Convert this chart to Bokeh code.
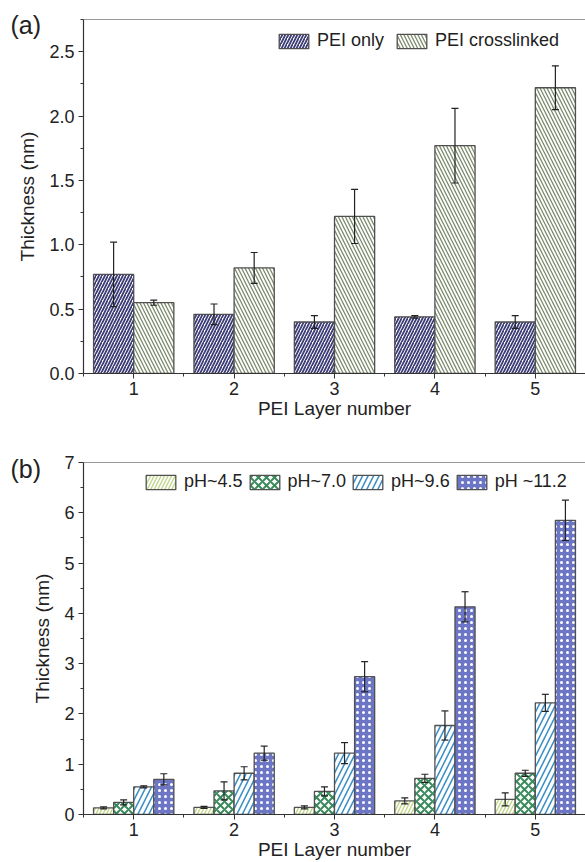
from bokeh.plotting import figure
from bokeh.models import (ColumnDataSource, Whisker, TeeHead, FixedTicker, Span,
                          NumeralTickFormatter)
from bokeh.layouts import column
from bokeh.embed import file_html
from bokeh.resources import INLINE

# ---------------- data ----------------
layers = [1, 2, 3, 4, 5]

pei_only = [0.77, 0.46, 0.40, 0.44, 0.40]
pei_only_err = [0.25, 0.08, 0.05, 0.01, 0.05]
pei_cross = [0.55, 0.82, 1.22, 1.77, 2.22]
pei_cross_err = [0.02, 0.12, 0.21, 0.29, 0.17]

ph45 = [0.13, 0.14, 0.14, 0.27, 0.30]
ph45_err = [0.02, 0.02, 0.03, 0.06, 0.13]
ph70 = [0.24, 0.47, 0.46, 0.72, 0.82]
ph70_err = [0.05, 0.18, 0.09, 0.08, 0.06]
ph96 = [0.55, 0.82, 1.22, 1.77, 2.22]
ph96_err = [0.02, 0.13, 0.21, 0.29, 0.17]
ph112 = [0.70, 1.22, 2.74, 4.13, 5.85]
ph112_err = [0.11, 0.14, 0.30, 0.30, 0.40]

yticks_a = [0.0, 0.5, 1.0, 1.5, 2.0, 2.5]
yticks_b = [0, 1, 2, 3, 4, 5, 6, 7]

FONT = "Liberation Sans"
W = 585
INK = "#222222"


def style(p, yticks, ystep, fmt, letter, standoff):
    p.outline_line_color = None
    p.xgrid.visible = False
    p.ygrid.visible = False
    for ax in (p.xaxis[0], p.yaxis[0]):
        ax.axis_line_color = "#333333"
        ax.axis_line_width = 1.2
        ax.major_tick_line_color = "#333333"
        ax.minor_tick_line_color = "#333333"
        ax.major_tick_out = 5
        ax.major_tick_in = 0
        ax.minor_tick_out = 3
        ax.minor_tick_in = 0
        ax.major_label_text_font = FONT
        ax.major_label_text_font_size = "18px"
        ax.major_label_text_color = INK
        ax.axis_label_text_font = FONT
        ax.axis_label_text_font_size = "19px"
        ax.axis_label_text_font_style = "normal"
        ax.axis_label_text_color = INK
    p.xaxis.ticker = FixedTicker(ticks=layers, minor_ticks=[l - 0.5 for l in layers] + [layers[-1] + 0.5])
    p.yaxis.ticker = FixedTicker(ticks=yticks, minor_ticks=[t + ystep / 2 for t in yticks])
    p.yaxis.formatter = NumeralTickFormatter(format=fmt)
    p.xaxis.axis_label = "PEI Layer number"
    p.yaxis.axis_label = "Thickness (nm)"
    p.xaxis.axis_label_standoff = 0
    p.yaxis.axis_label_standoff = 8
    p.xaxis.major_label_standoff = 3
    p.yaxis.major_label_standoff = 4
    p.add_layout(Span(location=p.y_range.end, dimension="width", line_color="#333333", line_width=1.2))
    # panel letter as the figure title, pulled left of the frame
    p.title.text = letter
    p.title.align = "left"
    p.title.offset = -73
    p.title.standoff = standoff
    p.title.text_font = FONT
    p.title.text_font_size = "25px"
    p.title.text_font_style = "normal"
    p.title.text_color = INK


def add_series(p, vals, errs, offset, width, label, **kw):
    xs = [l + offset for l in layers]
    src = ColumnDataSource(dict(x=xs, top=vals,
                                lower=[v - e for v, e in zip(vals, errs)],
                                upper=[v + e for v, e in zip(vals, errs)]))
    p.vbar(x="x", top="top", width=width, bottom=0, source=src, line_color="#505050",
           line_width=1.3, legend_label=label, **kw)
    w = Whisker(base="x", lower="lower", upper="upper", source=src, line_color=INK, line_width=1.2,
                upper_head=TeeHead(size=7, line_color=INK, line_width=1.2),
                lower_head=TeeHead(size=7, line_color=INK, line_width=1.2),
                level="overlay")
    p.add_layout(w)


def legend_style(p, loc, spacing):
    lg = p.legend[0]
    lg.orientation = "horizontal"
    lg.location = loc
    lg.border_line_color = None
    lg.background_fill_alpha = 0
    lg.label_text_font = FONT
    lg.label_text_font_size = "18px"
    lg.label_text_color = INK
    lg.glyph_width = 37
    lg.glyph_height = 18
    lg.label_standoff = 5
    lg.spacing = spacing
    lg.padding = 0
    lg.margin = 0


# ---------------- panel (a) ----------------
pa = figure(width=W, height=433, x_range=(0.5, 5.5), y_range=(0, 2.75),
            output_backend="svg", toolbar_location=None,
            min_border_top=19, min_border_left=83, min_border_right=0, min_border_bottom=60)
style(pa, yticks_a, 0.5, "0.0", "(a)", -38)
add_series(pa, pei_only, pei_only_err, -0.2, 0.4, "PEI only",
           fill_color="white", hatch_pattern="/", hatch_color="#3d3d78", hatch_scale=6, hatch_weight=1.8)
add_series(pa, pei_cross, pei_cross_err, 0.2, 0.4, "PEI crosslinked",
           fill_color="white", hatch_pattern="\\", hatch_color="#7d8c6e", hatch_scale=7, hatch_weight=1.3)
legend_style(pa, (192, 322), 9)

# ---------------- panel (b) ----------------
pb = figure(width=W, height=429, x_range=(0.5, 5.5), y_range=(0, 7),
            output_backend="svg", toolbar_location=None,
            min_border_top=29, min_border_left=83, min_border_right=0, min_border_bottom=46)
style(pb, yticks_b, 1, "0", "(b)", -40)
add_series(pb, ph45, ph45_err, -0.3, 0.2, "pH~4.5",
           fill_color="white", hatch_pattern="/", hatch_color="#c2d68a", hatch_scale=7, hatch_weight=1.4)
add_series(pb, ph70, ph70_err, -0.1, 0.2, "pH~7.0",
           fill_color="white", hatch_pattern="x", hatch_color="#3b8a5c", hatch_scale=8, hatch_weight=2)
add_series(pb, ph96, ph96_err, 0.1, 0.2, "pH~9.6",
           fill_color="white", hatch_pattern="/", hatch_color="#3d8fc4", hatch_scale=11, hatch_weight=1.6)
add_series(pb, ph112, ph112_err, 0.3, 0.2, "pH ~11.2",
           fill_color="#6d75c5", hatch_pattern=".", hatch_color="white", hatch_scale=6, hatch_weight=2)
legend_style(pb, (59, 322), 3)

layout = column(pa, pb, spacing=0)
open("out.html", "w").write(file_html(layout, INLINE))
